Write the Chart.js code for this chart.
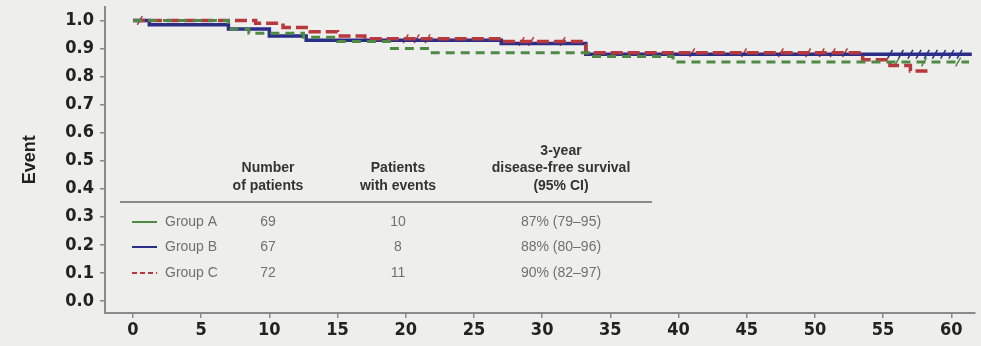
<!DOCTYPE html>
<html>
<head>
<meta charset="utf-8">
<script src="https://cdn.jsdelivr.net/npm/chart.js@4"></script>
<style>
  html, body { margin: 0; padding: 0; background: #eeeeec; }
  #wrap { width: 981px; height: 346px; position: relative; }
</style>
</head>
<body>
<div id="wrap"><canvas id="kmChart"></canvas></div>
<script>
// Kaplan-Meier style steps: time (months) and survival after each event
const timesA = [0, 7, 8.5, 12.5, 15, 18.8, 21.8, 33.5, 39.6, 61.3];
const survA  = [1.0, 0.97, 0.955, 0.94, 0.925, 0.90, 0.885, 0.872, 0.852, 0.852];

const timesB = [0, 1.2, 7, 10, 12.7, 27, 33.2, 61.5];
const survB  = [1.0, 0.985, 0.97, 0.945, 0.93, 0.918, 0.88, 0.88];

const timesC = [0, 9, 11, 13, 15, 17, 27, 33.2, 53.5, 55.5, 57, 58.6];
const survC  = [1.0, 0.99, 0.975, 0.96, 0.945, 0.935, 0.925, 0.885, 0.86, 0.84, 0.82, 0.82];

// censored observations (months)
const censA = [56, 58, 60.5];
const censB = [55.5, 56.3, 57, 57.6, 58.2, 58.8, 59.4, 60, 60.6];
const censC = [0.5, 20, 20.8, 21.6, 28.5, 29.2, 31.5, 41, 44.8, 47.5, 49.5, 50.5, 51.3, 52.2];

const xTicks = [0, 5, 10, 15, 20, 25, 30, 35, 40, 45, 50, 55, 60];
const yTicks = [0, 0.1, 0.2, 0.3, 0.4, 0.5, 0.6, 0.7, 0.8, 0.9, 1.0];

const groupNames = ['Group A', 'Group B', 'Group C'];
const nPatients = ['69', '67', '72'];
const nEvents = ['10', '8', '11'];
const dfs3y = ['87% (79\u201395)', '88% (80\u201396)', '90% (82\u201397)'];

const colA = '#4f8a45', colB = '#2b2e86', colC = '#b8393d';
const tickFont = { family: "'Liberation Sans Narrow', 'DejaVu Sans Condensed', 'Liberation Sans', sans-serif", size: 18, weight: 'bold' };

const toPts = (ts, ss) => ts.map((t, i) => ({ x: t, y: ss[i] }));
const survAt = (ts, ss, t) => {
  let v = ss[0];
  ts.forEach((tt, i) => { if (tt <= t) v = ss[i]; });
  return v;
};
const censPts = (cs, ts, ss) => cs.map(t => ({ x: t, y: survAt(ts, ss, t) }));

const bgPlugin = {
  id: 'bg',
  beforeDraw(chart) {
    const c = chart.ctx;
    c.save();
    c.fillStyle = '#eeeeec';
    c.fillRect(0, 0, chart.width, chart.height);
    c.restore();
  }
};

// summary table inside the plot
const tablePlugin = {
  id: 'table',
  afterDatasetsDraw(chart) {
    const c = chart.ctx;
    const cols = [268, 398, 561];
    c.save();
    c.textAlign = 'center';
    c.textBaseline = 'middle';
    c.fillStyle = '#333';
    c.font = "bold 14px 'Liberation Sans', sans-serif";
    c.fillText('3-year', cols[2], 151);
    c.fillText('Number', cols[0], 168);
    c.fillText('Patients', cols[1], 168);
    c.fillText('disease-free survival', cols[2], 168);
    c.fillText('of patients', cols[0], 186);
    c.fillText('with events', cols[1], 186);
    c.fillText('(95% CI)', cols[2], 186);

    c.strokeStyle = '#8a8a8a';
    c.lineWidth = 2;
    c.beginPath();
    c.moveTo(120, 202);
    c.lineTo(652, 202);
    c.stroke();

    const rows = [222, 247, 273];
    const lineCols = [colA, colB, colC];
    c.font = "14px 'Liberation Sans', sans-serif";
    c.fillStyle = '#707070';
    rows.forEach((y, i) => {
      c.strokeStyle = lineCols[i];
      c.lineWidth = 2;
      c.setLineDash(i === 2 ? [5, 3] : []);
      c.beginPath();
      c.moveTo(132, y);
      c.lineTo(157, y);
      c.stroke();
      c.setLineDash([]);
      c.textAlign = 'left';
      c.fillText(groupNames[i], 165, y);
      c.textAlign = 'center';
      c.fillText(nPatients[i], cols[0], y);
      c.fillText(nEvents[i], cols[1], y);
      c.fillText(dfs3y[i], cols[2], y);
    });
    c.restore();
  }
};

const censorSet = (pts, col) => ({
  type: 'scatter', data: pts, showLine: false,
  pointStyle: 'line', pointRotation: -60, pointRadius: 5,
  pointBorderColor: col, pointBorderWidth: 1.5, pointBackgroundColor: col
});

new Chart(document.getElementById('kmChart'), {
  type: 'line',
  data: {
    datasets: [
      { label: 'Group A', data: toPts(timesA, survA), borderColor: colA, borderWidth: 3, borderDash: [9, 6], stepped: true, pointRadius: 0, fill: false },
      { label: 'Group C', data: toPts(timesC, survC), borderColor: colC, borderWidth: 3.5, borderDash: [12, 5], stepped: true, pointRadius: 0, fill: false },
      { label: 'Group B', data: toPts(timesB, survB), borderColor: colB, borderWidth: 3.5, stepped: true, pointRadius: 0, fill: false },
      censorSet(censPts(censA, timesA, survA), colA),
      censorSet(censPts(censB, timesB, survB), colB),
      censorSet(censPts(censC, timesC, survC), colC)
    ]
  },
  options: {
    responsive: true,
    maintainAspectRatio: false,
    animation: false,
    layout: { padding: { top: 5, right: 0, left: 0, bottom: 0 } },
    plugins: { legend: { display: false }, tooltip: { enabled: false } },
    scales: {
      x: {
        type: 'linear', min: -2.05, max: 61.7,
        afterBuildTicks: s => { s.ticks = xTicks.map(v => ({ value: v })); },
        afterFit: s => { s.height = 33; s.paddingLeft = 0; s.paddingRight = 0; },
        grid: { display: true, drawOnChartArea: false, drawTicks: true, tickLength: 5, color: '#8a8a8a', lineWidth: 1.5 },
        border: { display: true, color: '#8a8a8a', width: 2 },
        ticks: { color: '#222', font: tickFont, padding: 2, maxRotation: 0 }
      },
      y: {
        type: 'linear', min: -0.043, max: 1.05,
        afterBuildTicks: s => { s.ticks = yTicks.map(v => ({ value: v })); },
        afterFit: s => { s.width = 105; s.paddingTop = 0; s.paddingBottom = 0; },
        grid: { display: true, drawOnChartArea: false, drawTicks: true, tickLength: 5, color: '#8a8a8a', lineWidth: 1.5 },
        border: { display: true, color: '#8a8a8a', width: 2 },
        ticks: { color: '#222', font: tickFont, padding: 6, callback: v => v.toFixed(1) },
        title: { display: true, text: 'Event', color: '#222', font: { family: "'Liberation Sans', sans-serif", size: 18, weight: 'bold' }, padding: { top: 19, bottom: 0 } }
      }
    }
  },
  plugins: [bgPlugin, tablePlugin]
});
</script>
</body>
</html>
